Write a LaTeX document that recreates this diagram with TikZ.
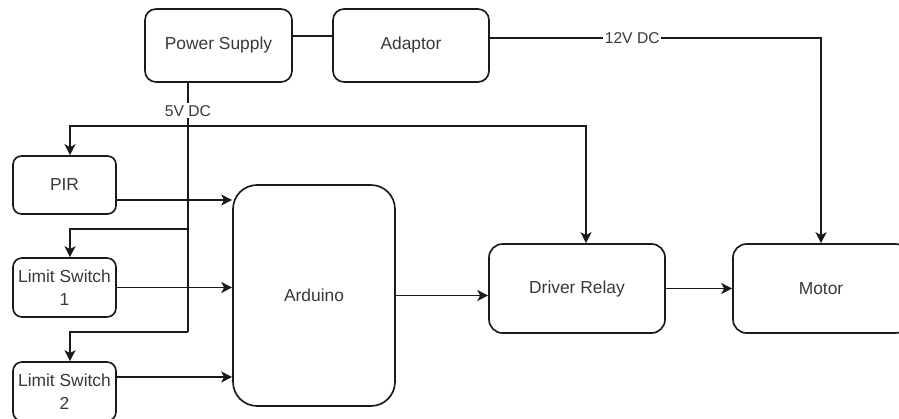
\documentclass[tikz,border=0pt]{standalone}
\usepackage{fontspec}
\setmainfont{Liberation Sans}
\usetikzlibrary{arrows.meta}

\definecolor{wirecol}{HTML}{1A1A1A}
\definecolor{textcol}{HTML}{383838}

\tikzset{
  blk/.style={draw=wirecol, line width=0.95pt, rounded corners=#1, inner sep=0pt,
    align=center, text=textcol, font=\fontsize{9.9}{13}\selectfont},
  blk/.default=0.22cm,
  wire/.style={draw=wirecol, line width=0.95pt},
  arr/.style={wire, -{Stealth[length=6.2pt,width=6.2pt,inset=1.6pt]}},
  lbl/.style={fill=white, inner sep=1pt, text=textcol, font=\fontsize{8.9}{10}\selectfont}
}

\begin{document}
\begin{tikzpicture}[x=0.02cm, y=-0.02cm]
\useasboundingbox (0,0) rectangle (899,419);
\clip (0,0) rectangle (899,419);

% blocks
\node[blk, minimum width=2.94cm, minimum height=1.46cm] (ps) at (218.5,45.5) {Power Supply};
\node[blk, minimum width=3.12cm, minimum height=1.46cm] (adp) at (411,45.5) {Adaptor};
\node[blk=0.17cm, minimum width=2.06cm, minimum height=1.16cm] (pir) at (64.5,185) {PIR};
\node[blk=0.18cm, minimum width=2.06cm, minimum height=1.18cm] (ls1) at (64.5,287.5) {Limit Switch\\1};
\node[blk=0.18cm, minimum width=2.06cm, minimum height=1.18cm] (ls2) at (64.5,391.5) {Limit Switch\\2};
\node[blk=0.48cm, minimum width=3.24cm, minimum height=4.42cm] (ard) at (314,295.5) {Arduino};
\node[blk=0.27cm, minimum width=3.52cm, minimum height=1.78cm] (drv) at (577,288.5) {Driver Relay};
\node[blk=0.27cm, minimum width=3.52cm, minimum height=1.78cm] (mot) at (821,288.5) {Motor};

% supply lines
\draw[wire] (ps.east |- 0,36) -- (adp.west |- 0,36);
\draw[arr] (adp.east |- 0,38) -- node[lbl, pos=0.43] {12V DC} (mot.north |- 0,38) -- (mot.north);

\coordinate (j1) at (188,126);
\coordinate (j2) at (188,229);
\coordinate (j3) at (188,332);
\draw[wire] (ps.south -| j1) -- node[lbl, pos=0.112] {5V DC} (j3);
\draw[arr] (j1) -| (pir.north -| 70,0);
\draw[arr] (j1) -| (drv.north -| 586,0);
\draw[arr] (j2) -| (ls1.north -| 70,0);
\draw[arr] (j3) -| (ls2.north -| 70,0);

% signals
\draw[arr] (pir.east |- 0,200) -- (ard.west |- 0,200);
\draw[arr] (ls1.east) -- (ls1.east -| ard.west);
\draw[arr] (ls2.east |- 0,377) -- (ard.west |- 0,377);
\draw[arr] (ard.east) -- (ard.east -| drv.west);
\draw[arr] (drv) -- (mot);
\end{tikzpicture}
\end{document}
